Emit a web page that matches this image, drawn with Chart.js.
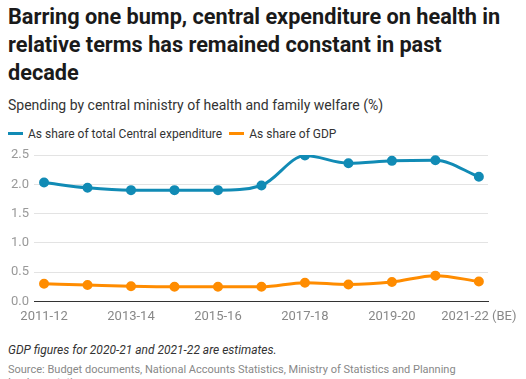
<!DOCTYPE html>
<html>
<head>
<meta charset="utf-8">
<script src="https://cdn.jsdelivr.net/npm/chart.js@4"></script>
<style>
  html, body { margin: 0; padding: 0; width: 526px; height: 379px; overflow: hidden; background: #fff; font-family: Roboto, sans-serif; }
  h1 { position: absolute; left: 8px; top: 3px; margin: 0; width: 505px; font-size: 21.7px; line-height: 28px; font-weight: 700; color: #1a1a1a; }
  .sub { position: absolute; left: 8px; top: 97px; font-size: 14px; color: #333; }
  .legend { position: absolute; left: 8px; top: 127px; font-size: 12px; color: #333; white-space: nowrap; }
  .legend span { display: inline-block; margin-right: 7px; }
  .legend i { display: inline-block; width: 15px; height: 3px; vertical-align: middle; margin-right: 5px; position: relative; top: -1px; }
  #wrap { position: absolute; left: 0; top: 140px; width: 526px; height: 193px; }
  .note { position: absolute; left: 8px; top: 343px; font-size: 12px; font-style: italic; color: #333; }
  .src { position: absolute; left: 8px; top: 363px; width: 500px; font-size: 11px; line-height: 13px; color: #888; }
</style>
</head>
<body>
<h1>Barring one bump, central expenditure on health in relative terms has remained constant in past decade</h1>
<div class="sub">Spending by central ministry of health and family welfare (%)</div>
<div class="legend">
  <span><i style="background:#118bb5"></i>As share of total Central expenditure</span><span><i style="background:#ff8c00"></i>As share of GDP</span>
</div>
<div id="wrap"><canvas id="chart"></canvas></div>
<div class="note">GDP figures for 2020-21 and 2021-22 are estimates.</div>
<div class="src">Source: Budget documents, National Accounts Statistics, Ministry of Statistics and Planning Implementation</div>

<script>
// years on the x axis
var years = ['2011-12', '2012-13', '2013-14', '2014-15', '2015-16', '2016-17',
             '2017-18', '2018-19', '2019-20', '2020-21', '2021-22 (BE)'];
// share of total central expenditure (%)
var centralShare = [2.03, 1.94, 1.90, 1.90, 1.90, 1.98, 2.49, 2.36, 2.40, 2.41, 2.13];
// share of GDP (%)
var gdpShare = [0.30, 0.28, 0.26, 0.25, 0.25, 0.25, 0.32, 0.29, 0.33, 0.44, 0.34];
// which year labels are shown
var shownTicks = [0, 2, 4, 6, 8, 10];
var yTicks = [0, 0.5, 1.0, 1.5, 2.0, 2.5];

function toPoints(arr) {
  return arr.map(function (v, i) { return { x: i, y: v }; });
}

var ctx = document.getElementById('chart').getContext('2d');
var chart = new Chart(ctx, {
  type: 'line',
  data: {
    datasets: [{
      label: 'As share of total Central expenditure',
      data: toPoints(centralShare),
      borderColor: '#118bb5',
      backgroundColor: '#118bb5',
      borderWidth: 3,
      pointRadius: 3.5,
      pointHoverRadius: 3.5,
      cubicInterpolationMode: 'monotone'
    }, {
      label: 'As share of GDP',
      data: toPoints(gdpShare),
      borderColor: '#ff8c00',
      backgroundColor: '#ff8c00',
      borderWidth: 3,
      pointRadius: 3.5,
      pointHoverRadius: 3.5,
      cubicInterpolationMode: 'monotone'
    }]
  },
  options: {
    responsive: true,
    maintainAspectRatio: false,
    animation: false,
    layout: { padding: { top: 15, right: 38, left: 6, bottom: 0 } },
    plugins: { legend: { display: false }, tooltip: { enabled: false } },
    scales: {
      x: {
        type: 'linear',
        min: -0.23,
        max: 10.21,
        afterBuildTicks: function (scale) {
          scale.ticks = shownTicks.map(function (v) { return { value: v }; });
        },
        grid: { display: false, drawTicks: false },
        border: { display: true, color: '#333', width: 1 },
        ticks: {
          autoSkip: false,
          maxRotation: 0,
          padding: 8,
          color: '#888',
          font: { family: 'Roboto', size: 13 },
          callback: function (v) { return years[v]; }
        }
      },
      y: {
        min: 0,
        max: 2.5,
        afterBuildTicks: function (scale) {
          scale.ticks = yTicks.map(function (v) { return { value: v }; });
        },
        grid: { color: '#e3e3e3', drawTicks: false },
        border: { display: false },
        ticks: {
          padding: 5,
          color: '#999',
          font: { family: 'Roboto', size: 13 },
          callback: function (v) { return v.toFixed(1); }
        }
      }
    }
  }
});
</script>
</body>
</html>
